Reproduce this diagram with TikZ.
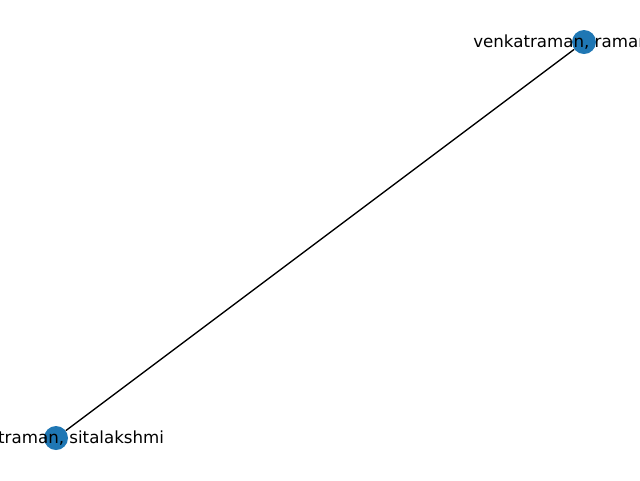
\documentclass[tikz,border=0pt]{standalone}
\usepackage{fontspec}
\setmainfont{DejaVu Sans}
\usepackage{xcolor}
\definecolor{nodeblue}{HTML}{1F77B4}
\tikzset{
  person/.style={circle, fill=nodeblue, minimum size=18pt, inner sep=0pt},
  personlabel/.style={font=\fontsize{12.5}{15}\selectfont, inner sep=0pt}
}

\begin{document}
\begin{tikzpicture}[x=0.75pt, y=-0.75pt]
      \useasboundingbox (0,0) rectangle (640,480);
      \clip (0,0) rectangle (640,480);
      \node[person] (raman) at (584,42) {};
      \node[person] (sita) at (56,438) {};
      \draw[line width=1pt] (sita) -- (raman);
      \node[personlabel, anchor=west] (ramanlabel) at (473,42) {venkatraman, raman};
      \node[personlabel] (sitalabel) at (56,438) {venkatraman, sitalakshmi};
  \end{tikzpicture}
\end{document}
